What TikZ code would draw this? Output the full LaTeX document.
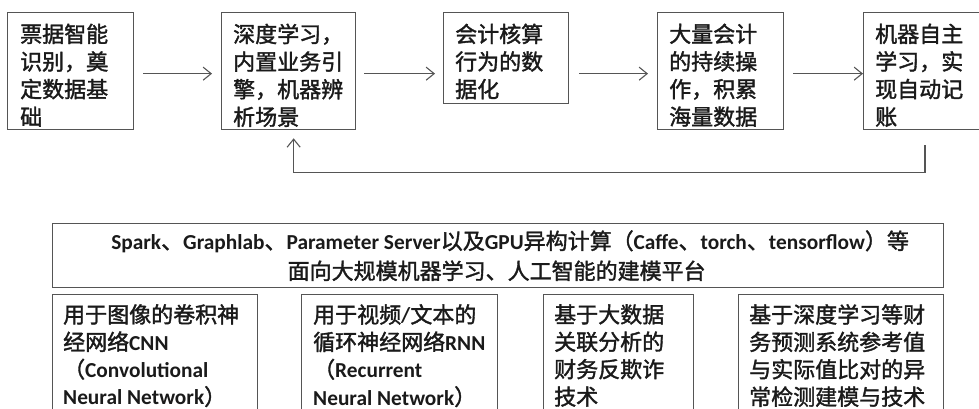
\documentclass[tikz,border=0pt]{standalone}
\usepackage{fontspec}
\setmainfont{Carlito}
\newfontfamily\cjk{Noto Sans CJK SC}[FakeBold=1.6]
\newfontfamily\latf{Carlito}[Scale=0.97]
\newcommand\lat[1]{{\latf\bfseries #1}}
\usetikzlibrary{arrows.meta,calc}
\definecolor{linec}{HTML}{555555}
\definecolor{textc}{HTML}{1A1A1A}
\tikzset{
  box/.style={draw=linec, line width=1.3pt, inner sep=0pt, anchor=north west},
  txt/.style={anchor=north west, inner sep=0pt, align=left, text=textc,
    font=\cjk\fontsize{22}{27.6}\selectfont},
  txtb/.style={txt, font=\cjk\fontsize{22}{27.4}\selectfont},
  arr/.style={draw=linec, line width=1.1pt, -{Straight Barb[length=8pt,width=13pt,line width=1.1pt]}}
}
\begin{document}
\begin{tikzpicture}[x=1pt,y=-1pt]
\useasboundingbox (0,0) rectangle (979,408);
\clip (0,0) rectangle (979,408);
% top row boxes
\node[box, minimum width=126pt, minimum height=117pt] (b1) at (7,12) {};
\node[box, minimum width=134pt, minimum height=117pt] (b2) at (221,12) {};
\node[box, minimum width=125pt, minimum height=91pt] (b3) at (443,12) {};
\node[box, minimum width=126pt, minimum height=117pt] (b4) at (657,12) {};
\node[box, minimum width=130pt, minimum height=117pt] (b5) at (863,12) {};
\node[txt] (t1) at ($(b1.north west)+(13,11.5)$) {票据智能\\识别，奠\\定数据基\\础};
\node[txt] (t2) at ($(b2.north west)+(12,11.5)$) {深度学习，\\内置业务引\\擎，机器辨\\析场景};
\node[txt] (t3) at ($(b3.north west)+(12,11.5)$) {会计核算\\行为的数\\据化};
\node[txt] (t4) at ($(b4.north west)+(12,11.5)$) {大量会计\\的持续操\\作，积累\\海量数据};
\node[txt] (t5) at ($(b5.north west)+(12,11.5)$) {机器自主\\学习，实\\现自动记\\账};
% arrows
\draw[arr] ($(b1.east)+(9,2.5)$) -- ($(b2.west)+(-9,2.5)$);
\draw[arr] ($(b2.east)+(8,2.5)$) -- ($(b3.west |- b2.west)+(-8,2.5)$);
\draw[arr] ($(b3.east |- b2.west)+(10,2.5)$) -- ($(b4.west)+(-9,2.5)$);
\draw[arr] ($(b4.east)+(9,2.5)$) -- ($(b5.west)+(0,2.5)$);
\coordinate (fbs) at ($(b5.south west)+(62,15)$);
\coordinate (fbe) at ($(b2.south)+(5,8)$);
\draw[arr] (fbs) -- ++(0,27) -| (fbe);
% platform box
\node[box, minimum width=891pt, minimum height=64pt] (pf) at (52,223) {};
\node[txt, anchor=center, align=center, font=\cjk\fontsize{22}{30}\selectfont] (pft) at ($(pf.center)+(-1.5,0)$)
  {\hspace*{27pt}\lat{Spark}、\lat{Graphlab}、\lat{Parameter Server}以及\lat{GPU}异构计算（\lat{Caffe}、\lat{torch}、\lat{tensorflow}）等\\面向大规模机器学习、人工智能的建模平台};
% bottom boxes
\node[box, minimum width=205pt, minimum height=130pt] (c1) at (52,294) {};
\node[box, minimum width=196pt, minimum height=130pt] (c2) at (301,294) {};
\node[box, minimum width=150pt, minimum height=130pt] (c3) at (543,294) {};
\node[box, minimum width=205pt, minimum height=130pt] (c4) at (738,294) {};
\node[txtb] (u1) at ($(c1.north west)+(11,10)$) {用于图像的卷积神\\经网络\lat{CNN}\\（\lat{Convolutional}\\\lat{Neural Network}）};
\node[txtb] (u2) at ($(c2.north west)+(12,10)$) {用于视频\lat{/}文本的\\循环神经网络\lat{RNN}\\（\lat{Recurrent}\\\lat{Neural Network}）};
\node[txtb] (u3) at ($(c3.north west)+(11,10)$) {基于大数据\\关联分析的\\财务反欺诈\\技术};
\node[txtb] (u4) at ($(c4.north west)+(11,10)$) {基于深度学习等财\\务预测系统参考值\\与实际值比对的异\\常检测建模与技术};
\end{tikzpicture}
\end{document}
